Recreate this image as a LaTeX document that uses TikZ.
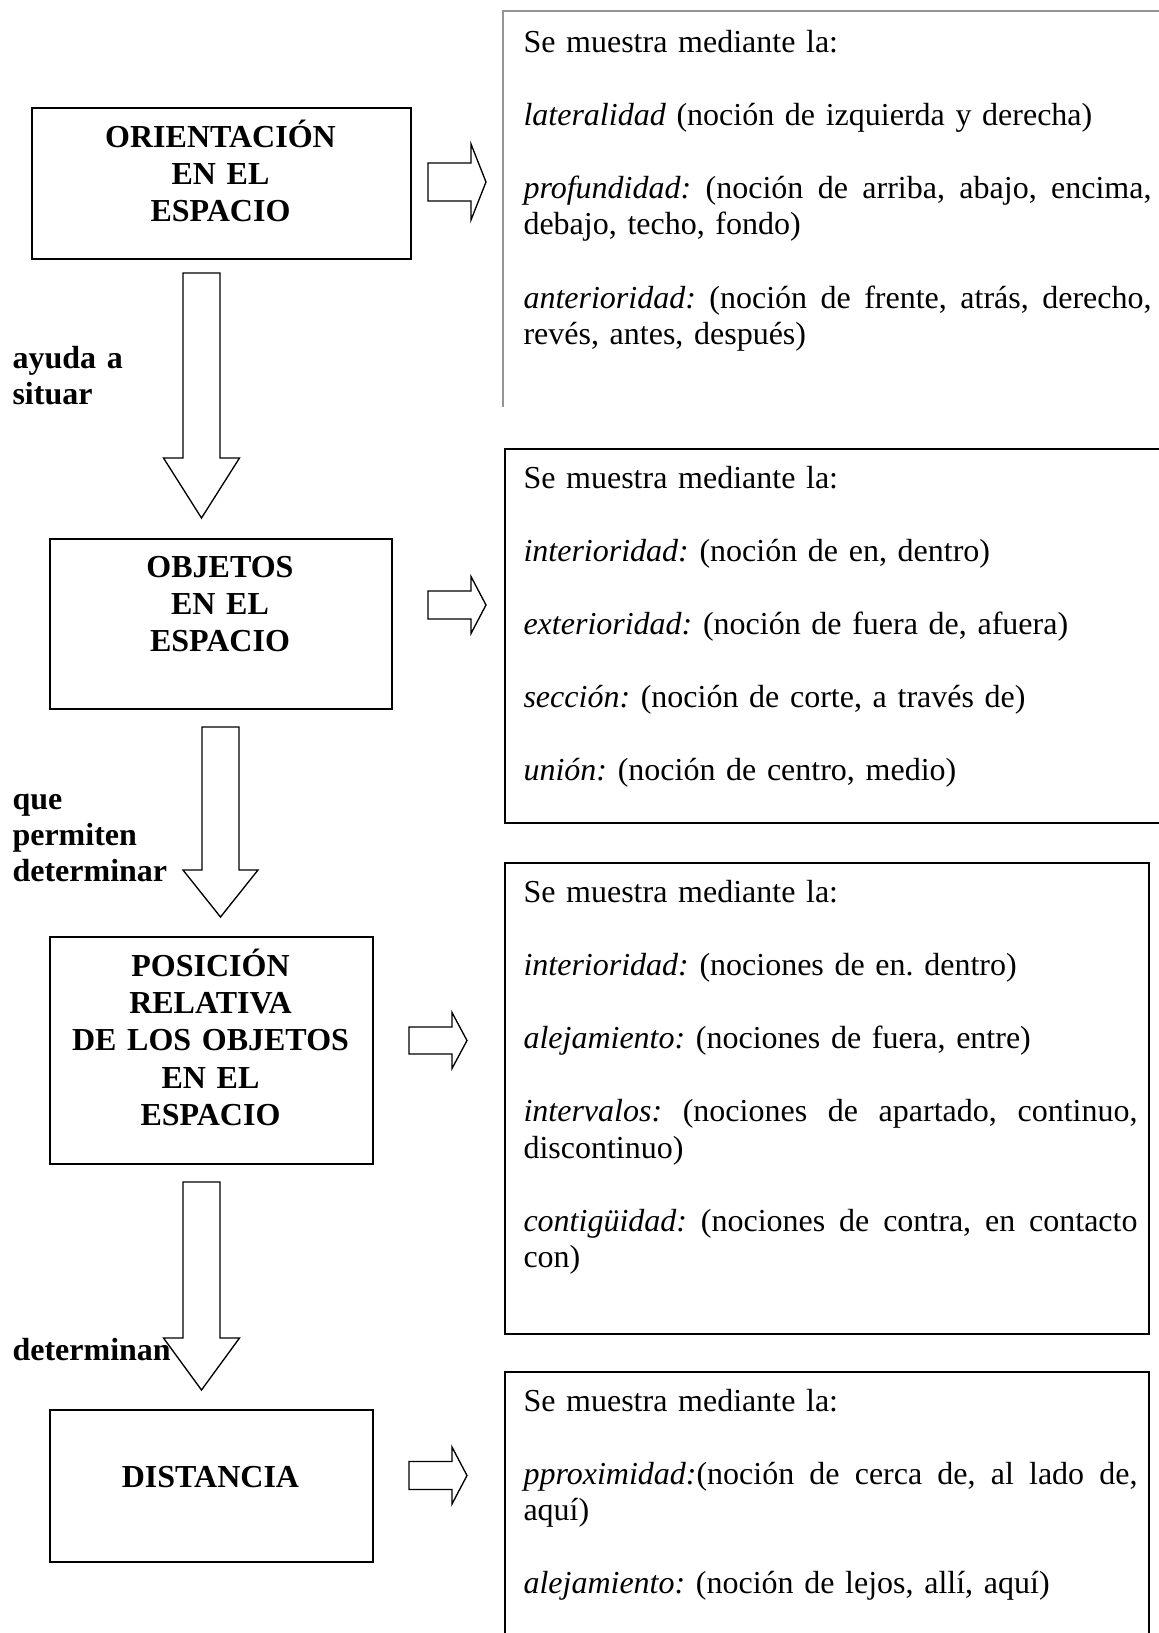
\documentclass[tikz,border=0pt]{standalone}
\usepackage{fontspec}
\setmainfont{Liberation Serif}
% one drawing unit = one pixel of a 1159 x 1633 sheet
\newcommand{\pxu}{0.375pt}
% block arrow pointing down: centre x, shaft top, head base, tip, shaft half width, head half width
\newcommand{\blockdown}[6]{%
  \draw[blockarrow] (#1-#5,#2) -- (#1+#5,#2) -- (#1+#5,#3) -- (#1+#6,#3)
    -- (#1,#4) -- (#1-#6,#3) -- (#1-#5,#3) -- cycle;}
% block arrow pointing right: shaft left, head base, tip, centre y, shaft half height, head half height
\newcommand{\blockright}[6]{%
  \draw[blockarrow] (#1,#4-#5) -- (#2,#4-#5) -- (#2,#4-#6) -- (#3,#4)
    -- (#2,#4+#6) -- (#2,#4+#5) -- (#1,#4+#5) -- cycle;}
\tikzset{
  frame/.style={draw, line width=0.75pt, inner sep=0pt, anchor=north west},
  openframe/.style={draw=black!42, line width=0.75pt},
  blockarrow/.style={draw, line width=0.5pt, fill=white, line join=miter},
  boxtitle/.style={font=\fontsize{12}{14}\selectfont\bfseries, text width=340*\pxu,
    align=center, inner sep=0pt, anchor=base},
  sidelabel/.style={font=\fontsize{12}{13.6}\selectfont\bfseries, text width=200*\pxu,
    align=left, inner sep=0pt, anchor=base west},
  notetext/.style={font=\fontsize{12}{13.8}\selectfont, align=left, inner sep=0pt,
    anchor=base west}
}
\newcommand{\notegap}{\setlength{\parskip}{13.6pt}\setlength{\parindent}{0pt}}
% a justified first line of a wrapped paragraph: width, words separated by \gap
\newcommand{\gap}{ \hfill}
\newcommand{\fullline}[2]{\leavevmode\hbox to #1{#2}\newline}
\begin{document}
\frenchspacing
\begin{tikzpicture}[x=\pxu, y=-\pxu]
  \useasboundingbox (0,0) rectangle (1159,1633);
  \fill[white] (0,0) rectangle (1159,1633);

  % left column: concept boxes
  \node[frame, minimum width=379*\pxu, minimum height=151*\pxu] (A) at (31,107) {};
  \node[frame, minimum width=342*\pxu, minimum height=170*\pxu] (B) at (49,538) {};
  \node[frame, minimum width=323*\pxu, minimum height=227*\pxu] (C) at (49,936) {};
  \node[frame, minimum width=323*\pxu, minimum height=152*\pxu] (D) at (49,1409) {};

  \node[boxtitle] (At) at (220.5,147) {ORIENTACIÓN\\EN EL\\ESPACIO};
  \node[boxtitle] (Bt) at (220,577) {OBJETOS\\EN EL\\ESPACIO};
  \node[boxtitle] (Ct) at (210.5,976) {POSICIÓN\\RELATIVA\\DE LOS OBJETOS\\EN EL\\ESPACIO};
  \node[boxtitle] (Dt) at (210.5,1487) {DISTANCIA};

  % downward block arrows between the concept boxes
  \blockdown{201.5}{273}{458}{518}{18.5}{38}
  \blockdown{220.5}{727}{870}{917}{18.5}{37.5}
  \blockdown{201.5}{1182}{1338}{1390}{18.5}{38}

  % rightward block arrows towards the explanations
  \blockright{428}{471}{486}{182}{19}{38}
  \blockright{428}{471}{486}{605}{14}{28.5}
  \blockright{409}{452}{467}{1040.5}{13.5}{28}
  \blockright{409}{452}{467}{1475.5}{14}{28.5}

  % relation labels
  \node[sidelabel] (L1) at (12,368) {ayuda a\\situar};
  \node[sidelabel] (L2) at (12,809) {que\\permiten\\determinar};
  \node[sidelabel] (L3) at (12,1360) {determinan};

  % right column: explanation frames
  \coordinate (R1) at (503,11);
  \draw[openframe] (1200,11) -- (R1) -- (503,407);
  \node[frame, minimum width=700*\pxu, minimum height=374*\pxu] (R2) at (504,448) {};
  \node[frame, minimum width=644*\pxu, minimum height=471*\pxu] (R3) at (504,862) {};
  \node[frame, minimum width=644*\pxu, minimum height=300*\pxu] (R4) at (504,1371) {};

  \node[notetext, text width=628*\pxu] (N1) at (523,52) {\notegap
    Se muestra mediante la:\par
    \textit{lateralidad} (noción de izquierda y derecha)\par
    \fullline{235.5pt}{\textit{profundidad:}\gap(noción\gap de\gap arriba,\gap abajo,\gap encima,}debajo, techo, fondo)\par
    \fullline{235.5pt}{\textit{anterioridad:}\gap(noción\gap de\gap frente,\gap atrás,\gap derecho,}revés, antes, después)};

  \node[notetext, text width=614*\pxu] (N2) at (523,488) {\notegap
    Se muestra mediante la:\par
    \textit{interioridad:} (noción de en, dentro)\par
    \textit{exterioridad:} (noción de fuera de, afuera)\par
    \textit{sección:} (noción de corte, a través de)\par
    \textit{unión:} (noción de centro, medio)};

  \node[notetext, text width=614*\pxu] (N3) at (523,902) {\notegap
    Se muestra mediante la:\par
    \textit{interioridad:} (nociones de en. dentro)\par
    \textit{alejamiento:} (nociones de fuera, entre)\par
    \fullline{230.25pt}{\textit{intervalos:}\gap(nociones\gap de\gap apartado,\gap continuo,}discontinuo)\par
    \fullline{230.25pt}{\textit{contigüidad:}\gap(nociones\gap de\gap contra,\gap en\gap contacto}con)};

  \node[notetext, text width=614*\pxu] (N4) at (523,1411) {\notegap
    Se muestra mediante la:\par
    \fullline{230.25pt}{\textit{pproximidad:}(noción\gap de\gap cerca\gap de,\gap al\gap lado\gap de,}aquí)\par
    \textit{alejamiento:} (noción de lejos, allí, aquí)};
\end{tikzpicture}
\end{document}
